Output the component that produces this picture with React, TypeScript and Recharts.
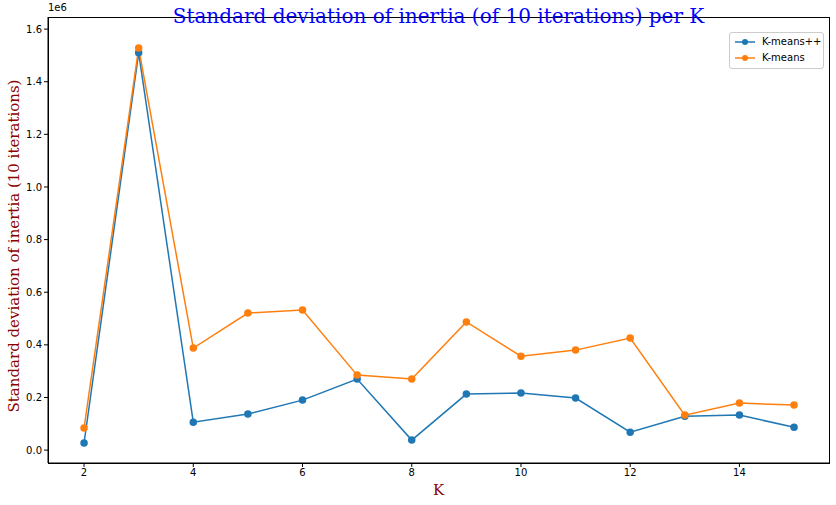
import React from 'react';
import { LineChart, Line, XAxis, YAxis } from 'recharts';

const ks = [2, 3, 4, 5, 6, 7, 8, 9, 10, 11, 12, 13, 14, 15];
const kmeansPP = [0.027, 1.51, 0.106, 0.137, 0.19, 0.27, 0.038, 0.213, 0.217, 0.198, 0.068, 0.129, 0.133, 0.087];
const kmeans = [0.084, 1.528, 0.388, 0.521, 0.532, 0.285, 0.27, 0.487, 0.357, 0.38, 0.426, 0.133, 0.179, 0.171];
const xTicks = [2, 4, 6, 8, 10, 12, 14];
const yTicks = [0, 0.2, 0.4, 0.6, 0.8, 1.0, 1.2, 1.4, 1.6];

const data = ks.map((k, i) => ({ k, pp: kmeansPP[i], km: kmeans[i] }));
const tickStyle = { fontSize: 10, fill: '#000', fontFamily: 'DejaVu Sans' };

export default function App() {
  return (
    <div style={{ position: 'absolute', left: 0, top: 0, width: 836, height: 505, background: '#fff' }}>
      <LineChart width={836} height={505} data={data} margin={{ top: 17, right: 7, left: 0, bottom: 0 }}>
        <XAxis dataKey="k" type="number" domain={[1.34, 15.64]} ticks={xTicks} height={42}
          tick={tickStyle} tickLine={{ stroke: '#000' }} axisLine={{ stroke: '#000' }} tickSize={4} allowDataOverflow />
        <YAxis type="number" domain={[-0.049, 1.646]} ticks={yTicks} width={48}
          tickFormatter={(v: number) => v.toFixed(1)} tick={tickStyle} tickLine={{ stroke: '#000' }}
          axisLine={{ stroke: '#000' }} tickSize={4} allowDataOverflow />
        <Line dataKey="pp" stroke="#1f77b4" strokeWidth={1.5} dot={{ r: 3, fill: '#1f77b4', stroke: '#1f77b4' }} isAnimationActive={false} />
        <Line dataKey="km" stroke="#ff7f0e" strokeWidth={1.5} dot={{ r: 3, fill: '#ff7f0e', stroke: '#ff7f0e' }} isAnimationActive={false} />
      </LineChart>
      <div style={{ position: 'absolute', left: 48, top: 17, width: 780, height: 445, border: '1px solid #000', pointerEvents: 'none' }} />
      <div style={{ position: 'absolute', left: 48, top: 2, fontFamily: 'DejaVu Sans', fontSize: 10 }}>1e6</div>
      <div style={{ position: 'absolute', left: 48, width: 781, top: 4, textAlign: 'center', fontFamily: 'DejaVu Serif', fontSize: 20, color: 'blue' }}>
        Standard deviation of inertia (of 10 iterations) per K
      </div>
      <div style={{ position: 'absolute', left: 48, width: 781, top: 481, textAlign: 'center', fontFamily: 'DejaVu Serif', fontSize: 15, color: '#8b0000' }}>K</div>
      <div style={{ position: 'absolute', left: 14, top: 246, width: 0, height: 0 }}>
        <div style={{ position: 'absolute', transform: 'translate(-50%,-50%) rotate(-90deg)', whiteSpace: 'nowrap', fontFamily: 'DejaVu Serif', fontSize: 15, color: '#8b0000' }}>
          Standard deviation of inertia (10 iterations)
        </div>
      </div>
      <div style={{ position: 'absolute', left: 729, top: 32, width: 93, height: 35, border: '1px solid #ccc', borderRadius: 3, background: '#fff', fontFamily: 'DejaVu Sans', fontSize: 10 }}>
        {[['K-means++', '#1f77b4'], ['K-means', '#ff7f0e']].map(([name, c], i) => (
          <div key={name} style={{ position: 'absolute', left: 5, top: 3 + i * 16, display: 'flex', alignItems: 'center' }}>
            <svg width={22} height={10}><line x1={0} y1={5} x2={20} y2={5} stroke={c} strokeWidth={1.5} /><circle cx={10} cy={5} r={3} fill={c} /></svg>
            <span style={{ marginLeft: 5 }}>{name}</span>
          </div>
        ))}
      </div>
    </div>
  );
}
